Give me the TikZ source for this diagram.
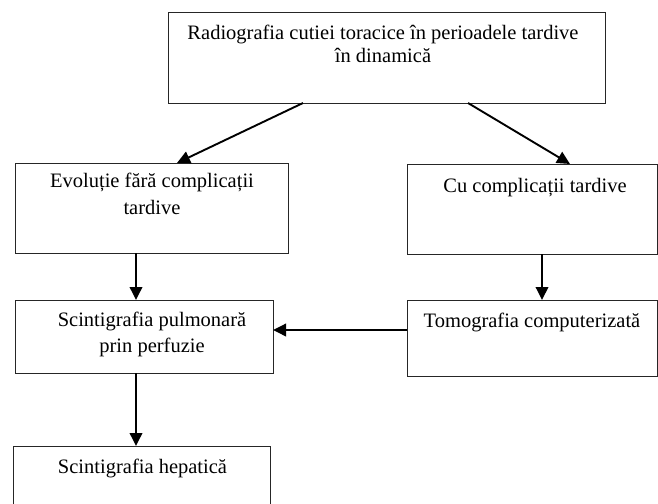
\documentclass[tikz,border=0pt]{standalone}
\usepackage{fontspec}
\setmainfont{Liberation Serif}
\usetikzlibrary{arrows.meta}
\begin{document}
\begin{tikzpicture}[x=1pt,y=-1pt,
  box/.style={draw=black!85,line width=1pt,rectangle,inner sep=0pt,outer sep=0pt},
  lbl/.style={anchor=base,inner sep=0pt,font=\fontsize{20.5}{24}\selectfont},
  arr/.style={line width=1.9pt,-{Triangle[width=12.5pt,length=13pt]}}]
\useasboundingbox (0,0) rectangle (658,503);
\clip (0,0) rectangle (658,503);
\node[box,minimum width=437pt,minimum height=90pt] (top) at (386.5,58) {};
\node[box,minimum width=273pt,minimum height=90pt] (L1) at (151.5,208) {};
\node[box,minimum width=250pt,minimum height=90pt] (R1) at (532,209) {};
\node[box,minimum width=258pt,minimum height=73pt] (L2) at (144,336.5) {};
\node[box,minimum width=250pt,minimum height=76pt] (R2) at (532,338) {};
\node[box,minimum width=257pt,minimum height=64pt] (B) at (141.5,478) {};
\node[lbl] (ttop) at (383,40) {\begin{tabular}[t]{@{}c@{}}Radiografia cutiei toracice în perioadele tardive\\[-1pt] în dinamică\end{tabular}};
\node[lbl] (tL1) at (152,187) {\begin{tabular}[t]{@{}c@{}}Evoluție fără complicații\\[3pt] tardive\end{tabular}};
\node[lbl] (tR1) at (535,192) {Cu complicații tardive};
\node[lbl] (tL2) at (152,326) {\begin{tabular}[t]{@{}c@{}}Scintigrafia pulmonară\\[2pt] prin perfuzie\end{tabular}};
\node[lbl] (tR2) at (532,327) {Tomografia computerizată};
\node[lbl] (tB) at (142.5,473) {Scintigrafia hepatică};
\draw[arr] ([xshift=-83.5pt]top.south) -- ([xshift=25.5pt]L1.north);
\draw[arr] ([xshift=81.5pt]top.south) -- ([xshift=38pt]R1.north);
\draw[arr] ([xshift=-15.5pt]L1.south) -- ([xshift=-8pt]L2.north);
\draw[arr] ([xshift=10pt]R1.south) -- ([xshift=10pt]R2.north);
\draw[arr] ([yshift=8pt]R2.west) -- ([yshift=6.5pt]L2.east);
\draw[arr] ([xshift=-8pt]L2.south) -- ([xshift=-5.5pt]B.north);
\end{tikzpicture}
\end{document}
